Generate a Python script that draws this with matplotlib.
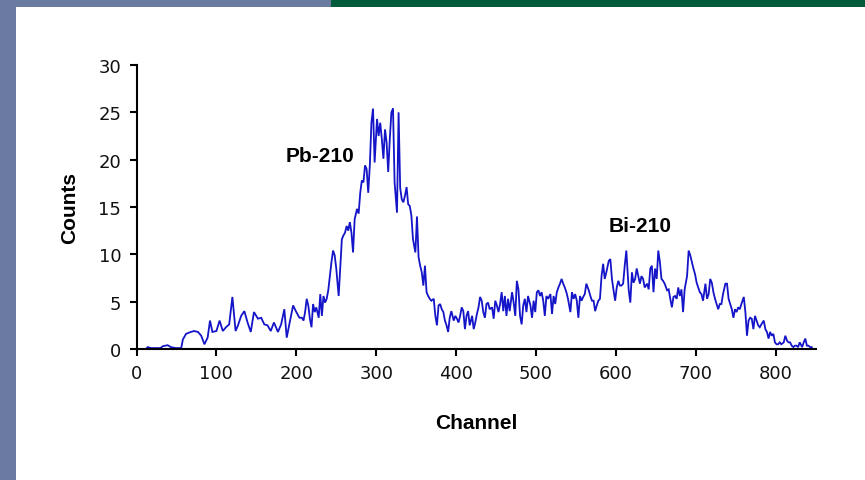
import numpy as np
import matplotlib
matplotlib.use("Agg")
import matplotlib.pyplot as plt
from matplotlib.patches import Rectangle

# ---- data ----
ch_low = [12, 14, 18, 24, 30, 33, 39, 43, 49, 56, 58, 62, 68, 72, 77, 81, 85, 89, 92, 95,
          100, 104, 108, 112, 116, 120, 124, 127, 131, 135, 139, 143, 147, 152, 156, 160,
          164, 168, 172, 177, 181, 185, 188, 191, 196, 200, 204]
cnt_low = [0, 0.2, 0.1, 0.1, 0.1, 0.3, 0.4, 0.2, 0.1, 0.1, 1.0, 1.6, 1.8, 1.9, 1.8, 1.4, 0.5,
           1.2, 3.0, 1.8, 1.9, 3.0, 1.9, 2.3, 2.6, 5.5, 1.9, 2.5, 3.5, 4.0, 2.8, 1.8, 3.9,
           3.2, 3.3, 2.6, 2.5, 1.9, 2.8, 1.8, 2.6, 4.2, 1.2, 2.5, 4.6, 3.9, 3.3]

ch_pb = [205, 207, 209, 211, 213, 215, 217, 219, 221, 223, 225, 228, 230, 232, 234, 236, 238,
         240, 242, 244, 246, 248, 250, 253, 255, 257, 259, 261, 263, 265, 267, 269, 271, 273,
         276, 278, 280, 282, 284, 286, 288, 290, 292, 294, 296, 298, 301, 303, 305, 307, 309,
         311, 313, 315, 317, 319, 321, 323, 326, 328, 330, 332, 334, 336, 338, 340, 342, 344,
         346, 349, 351, 353, 355, 357, 359, 361, 363, 365, 367]
cnt_pb = [3.3, 3.3, 3.0, 3.9, 5.3, 4.6, 3.2, 2.3, 4.75, 3.9, 4.4, 3.3, 5.8, 3.5, 5.6, 4.9, 5.3,
          6.2, 7.7, 9.2, 10.4, 9.9, 8.5, 5.6, 8.5, 11.6, 12.0, 12.3, 13.0, 12.5, 13.4, 12.3,
          10.2, 13.7, 14.8, 14.3, 16.5, 17.8, 17.6, 19.4, 19.0, 16.5, 19.4, 23.9, 25.4, 19.7,
          24.3, 22.5, 23.9, 22.2, 20.1, 23.2, 21.8, 18.7, 22.2, 25.0, 25.4, 17.6, 14.4, 25.0,
          17.0, 15.8, 15.5, 16.2, 17.1, 15.3, 15.1, 14.1, 11.6, 10.2, 14.0, 9.7, 8.8, 8.1,
          6.7, 8.8, 6.0, 5.6, 5.3]

ch_mid = [369, 372, 374, 376, 378, 380, 382, 384, 386, 388, 390, 392, 394, 397, 399, 401,
          403, 405, 407, 409, 411, 413, 415, 417, 420, 422, 424, 426, 428, 430, 432, 434,
          436, 438, 440, 442, 445, 447, 449, 451, 453, 455, 457, 459, 461, 463, 465, 467,
          470, 472, 474, 476, 478, 480, 482, 484, 486, 488, 490, 493, 495, 497, 499, 501,
          503, 505, 507, 509, 511, 513, 515, 518, 520, 522, 524, 526, 528, 530, 532, 534,
          536, 538, 540, 543, 545, 547, 549, 551, 553, 555, 557, 559, 561, 563, 566, 568,
          570, 572, 574, 576, 578, 580, 582, 584, 586, 588, 591, 593, 595, 597, 599, 601,
          603, 605, 607, 609, 611, 613, 616, 618]
cnt_mid = [5.1, 5.3, 3.5, 2.5, 4.6, 4.75, 4.2, 3.9, 3.0, 2.5, 1.8, 3.3, 4.0, 3.0, 3.5, 3.2,
           2.8, 3.5, 4.4, 4.0, 2.1, 3.5, 4.0, 2.5, 3.5, 2.1, 2.8, 3.7, 4.4, 5.5, 5.1, 3.9,
           3.3, 4.75, 4.9, 4.2, 4.4, 3.2, 5.1, 4.6, 3.9, 4.75, 6.0, 4.0, 5.6, 3.5, 5.3, 4.0,
           6.0, 4.9, 3.5, 7.2, 6.3, 3.5, 2.6, 4.6, 5.3, 3.9, 5.6, 4.6, 3.3, 5.1, 3.9, 6.0,
           6.2, 5.6, 6.0, 5.1, 3.5, 5.6, 5.3, 5.8, 3.7, 5.6, 4.75, 6.0, 6.5, 6.9, 7.4, 6.9,
           6.5, 6.0, 5.3, 3.9, 6.0, 5.3, 5.8, 5.1, 3.3, 5.6, 5.1, 5.5, 5.8, 6.9, 6.2, 5.6,
           5.1, 5.1, 4.0, 4.6, 5.1, 5.3, 7.7, 9.0, 7.4, 8.1, 9.3, 9.5, 7.4, 6.2, 5.1, 6.5,
           7.2, 6.7, 6.7, 6.9, 8.8, 10.4, 6.2, 4.9]

ch_bi = [620, 622, 624, 626, 628, 630, 632, 634, 636, 639, 641, 643, 645, 647, 649, 651,
         653, 655, 657, 659, 661, 664, 666, 668, 670, 672, 674, 676, 678, 680, 682, 684,
         686, 689, 691, 693, 695, 697, 699, 701, 703, 705, 707, 709, 712, 714, 716, 718,
         720, 722, 724, 726, 728, 730, 732, 734, 737, 739, 741, 743, 745, 747, 749, 751,
         753, 755, 757, 760, 762, 764, 766, 768, 770, 772, 774, 776, 778, 780, 782, 785,
         787, 789, 791, 793, 795, 797, 799, 801, 803, 805, 807, 810, 812, 814, 816, 818,
         820, 822, 824, 826, 828, 830, 833, 835, 837, 839, 841, 843, 845]
cnt_bi = [8.1, 7.0, 7.4, 8.5, 7.7, 6.9, 7.7, 7.4, 6.5, 6.9, 6.3, 8.5, 8.8, 6.0, 8.5, 7.4,
          10.4, 9.2, 7.4, 7.2, 6.9, 6.2, 6.3, 5.3, 4.4, 5.5, 5.6, 5.3, 6.5, 5.6, 6.3, 3.9,
          6.3, 7.7, 10.4, 9.9, 9.2, 8.5, 7.9, 7.0, 6.5, 6.0, 5.8, 5.1, 6.9, 5.3, 5.8, 7.4,
          7.0, 6.0, 5.3, 4.75, 4.2, 4.75, 4.75, 5.8, 6.9, 6.9, 5.3, 4.75, 4.2, 3.3, 4.2, 3.9,
          4.4, 4.2, 4.75, 5.5, 3.9, 1.4, 3.0, 3.3, 3.2, 2.1, 3.5, 3.0, 2.5, 2.3, 2.6, 3.0,
          2.1, 1.8, 1.1, 1.8, 1.4, 1.6, 0.7, 0.5, 0.5, 0.7, 0.5, 0.7, 1.4, 0.9, 0.7, 0.7,
          0.35, 0.2, 0.35, 0.35, 0.2, 0.7, 0.2, 0.7, 1.1, 0.35, 0.35, 0.2, 0.2]

channels = ch_low + ch_pb + ch_mid + ch_bi
counts = cnt_low + cnt_pb + cnt_mid + cnt_bi

x_ticks = [0, 100, 200, 300, 400, 500, 600, 700, 800]
y_ticks = [0, 5, 10, 15, 20, 25, 30]
peak_labels = ["Pb-210", "Bi-210"]
peak_pos = [(230, 20.4), (630, 13.0)]

# ---- figure ----
W, H = 865, 481
fig = plt.figure(figsize=(W / 100, H / 100), dpi=100)
fig.patch.set_facecolor("white")

# decorative slide bars
fig.patches.append(Rectangle((0, 0), 16 / W, 1, transform=fig.transFigure,
                             facecolor="#6b7aa0", edgecolor="none", zorder=0))
fig.patches.append(Rectangle((0, 1 - 8 / H), 331 / W, 8 / H, transform=fig.transFigure,
                             facecolor="#6b7aa0", edgecolor="none", zorder=0))
fig.patches.append(Rectangle((331 / W, 1 - 8 / H), 1 - 331 / W, 8 / H, transform=fig.transFigure,
                             facecolor="#005c3a", edgecolor="none", zorder=0))

left, right = 136.5, 815.7
top, bottom = 66, 350
ax = fig.add_axes([left / W, 1 - bottom / H, (right - left) / W, (bottom - top) / H])
ax.set_facecolor("none")

ax.plot(channels, counts, color="#1414c8", lw=1.3, solid_joinstyle="miter")

ax.set_xlim(0, 850)
ax.set_ylim(0, 30)
ax.set_xticks(x_ticks)
ax.set_yticks(y_ticks)
for s in ["top", "right"]:
    ax.spines[s].set_visible(False)
for s in ["left", "bottom"]:
    ax.spines[s].set_linewidth(1.5)
    ax.spines[s].set_color("black")
ax.tick_params(direction="out", length=5, width=1.5, colors="black",
               labelsize=13, pad=6)
for lab in ax.get_xticklabels() + ax.get_yticklabels():
    lab.set_fontfamily("DejaVu Sans")
    lab.set_color("#111111")

ax.set_xlabel("Channel", fontsize=15, fontweight="bold", family="Liberation Sans", labelpad=22)
ax.set_ylabel("Counts", fontsize=15, fontweight="bold", family="Liberation Sans", labelpad=14)

for txt, (cx, cy) in zip(peak_labels, peak_pos):
    ax.text(cx, cy, txt, fontsize=15, fontweight="bold", family="Liberation Sans",
            ha="center", va="center")

fig.savefig("out.png", dpi=100)
